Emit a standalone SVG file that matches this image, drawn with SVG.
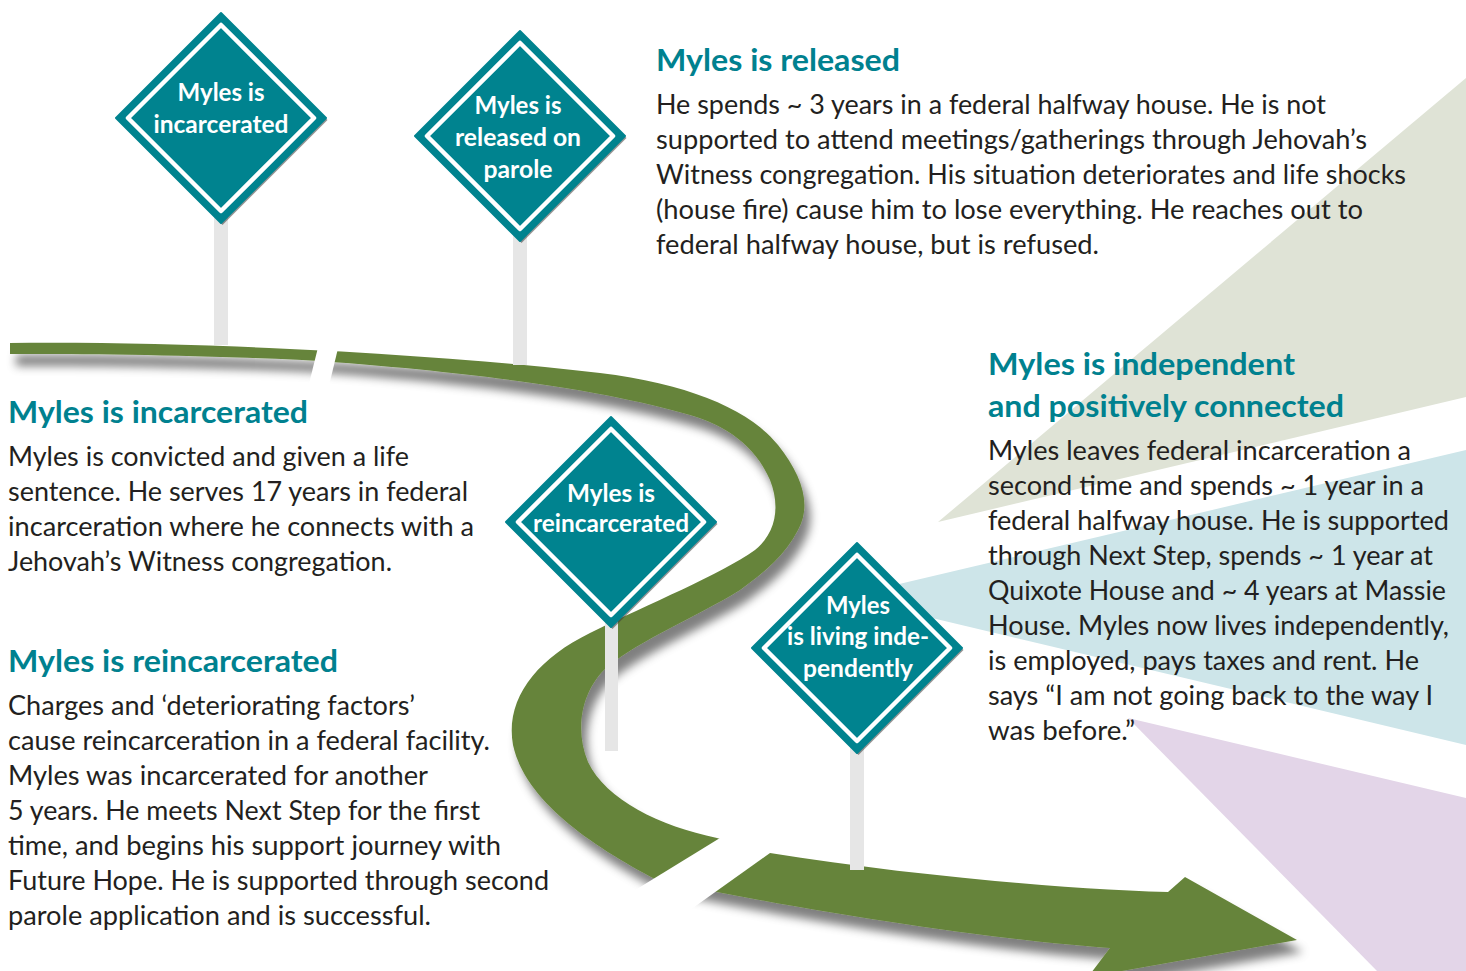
<svg xmlns="http://www.w3.org/2000/svg" width="1466" height="971" viewBox="0 0 1466 971">
<defs>
<style>
.body{font-family:Lato,"Open Sans","Liberation Sans",sans-serif;font-size:26px;fill:#231f20}
.head{font-family:Lato,"Open Sans","Liberation Sans",sans-serif;font-size:31px;font-weight:bold;fill:#00818f}
.sign{font-family:Lato,"Open Sans","Liberation Sans",sans-serif;font-size:24px;font-weight:bold;fill:#ffffff;text-anchor:middle}
.pole{fill:#e6e6e6}
.road{fill:#66843a}
.dia{fill:#00838f;stroke:#00838f;stroke-width:2;stroke-linejoin:round}
.diash{fill:#3a3a3a;opacity:.55}
.diain{fill:none;stroke:#ffffff;stroke-width:4.5;stroke-linejoin:round}
</style>
<polygon id="dia" points="0,-105 105,0 0,105 -105,0"/>
<polygon id="diain" points="0,-93 93,0 0,93 -93,0"/>
<filter id="sh" x="-10%" y="-10%" width="130%" height="140%">
<feGaussianBlur in="SourceAlpha" stdDeviation="5"/>
<feOffset dx="6" dy="12" result="b"/>
<feFlood flood-color="#000" flood-opacity="0.5"/>
<feComposite in2="b" operator="in"/>
<feMerge><feMergeNode/><feMergeNode in="SourceGraphic"/></feMerge>
</filter>
</defs>
<rect width="1466" height="971" fill="#ffffff"/>
<g id="background">
<polygon points="938,522 1466,78 1466,397" fill="#dfe3d6"/>
<polygon points="844,597 1466,450 1466,745" fill="#cde5e9"/>
<polygon points="1128,718 1466,798 1466,971 1377,971" fill="#e3d5e8"/>
</g>
<g id="connectors">
<path class="road" filter="url(#sh)" d="M10,343 C180,341 420,352 600,373 C690,384 750,410 778,445 C802,475 812,505 798,530 C785,555 765,572 740,590 C700,615 640,640 607,667 C582,690 574,728 588,762 C606,800 660,826 717,838 L770,853 C900,874 1060,889 1168,892 L1185,877 L1297,940 L1088,977 L1110,948 C1000,940 850,918 717,892 L657,880 C590,845 525,800 513,745 C505,700 535,660 590,633 C650,603 720,575 755,550 C777,532 780,505 770,480 C755,445 725,425 690,415 C620,395 520,376 320,361 C200,355 100,354 10,354 Z"/>
<polygon points="320.8,336 341,336 326,398 305.5,398" fill="#ffffff"/>
<polygon points="733,830 784,843 669,925 619,900" fill="#ffffff"/>
</g>
<g id="sign-incarcerated">
<rect class="pole" x="214" y="215" width="14" height="130"/>
<g transform="translate(221,118)">
<use href="#dia" class="diash" x="1.5" y="2"/>
<use href="#dia" class="dia"/>
<use href="#diain" class="diain"/>
</g>
<text class="sign" x="221" y="101" textLength="87" lengthAdjust="spacingAndGlyphs">Myles is</text>
<text class="sign" x="221" y="133" textLength="135" lengthAdjust="spacingAndGlyphs">incarcerated</text>
</g>
<g id="sign-parole">
<rect class="pole" x="513" y="232" width="14" height="133"/>
<g transform="translate(520,136)">
<use href="#dia" class="diash" x="1.5" y="2"/>
<use href="#dia" class="dia"/>
<use href="#diain" class="diain"/>
</g>
<text class="sign" x="518" y="114" textLength="87" lengthAdjust="spacingAndGlyphs">Myles is</text>
<text class="sign" x="518" y="146" textLength="126" lengthAdjust="spacingAndGlyphs">released on</text>
<text class="sign" x="518" y="178" textLength="69" lengthAdjust="spacingAndGlyphs">parole</text>
</g>
<g id="sign-reincarcerated">
<rect class="pole" x="605" y="620" width="13" height="131"/>
<g transform="translate(611,522)">
<use href="#dia" class="diash" x="1.5" y="2"/>
<use href="#dia" class="dia"/>
<use href="#diain" class="diain"/>
</g>
<text class="sign" x="611" y="502" textLength="88" lengthAdjust="spacingAndGlyphs">Myles is</text>
<text class="sign" x="611" y="532" textLength="156" lengthAdjust="spacingAndGlyphs">reincarcerated</text>
</g>
<g id="sign-independent">
<rect class="pole" x="850" y="745" width="14" height="125"/>
<g transform="translate(857,648)">
<use href="#dia" class="diash" x="1.5" y="2"/>
<use href="#dia" class="dia"/>
<use href="#diain" class="diain"/>
</g>
<text class="sign" x="858" y="614" textLength="64" lengthAdjust="spacingAndGlyphs">Myles</text>
<text class="sign" x="858" y="645" textLength="142" lengthAdjust="spacingAndGlyphs">is living inde-</text>
<text class="sign" x="858" y="677" textLength="110" lengthAdjust="spacingAndGlyphs">pendently</text>
</g>
<g id="text-released">
<text class="head" x="656" y="71" textLength="244" lengthAdjust="spacingAndGlyphs">Myles is released</text>
<text class="body" x="656" y="114" textLength="670" lengthAdjust="spacingAndGlyphs">He spends ~ 3 years in a federal halfway house. He is not</text>
<text class="body" x="656" y="149" textLength="711" lengthAdjust="spacingAndGlyphs">supported to attend meetings/gatherings through Jehovah’s</text>
<text class="body" x="656" y="184" textLength="750" lengthAdjust="spacingAndGlyphs">Witness congregation. His situation deteriorates and life shocks</text>
<text class="body" x="656" y="219" textLength="707" lengthAdjust="spacingAndGlyphs">(house fire) cause him to lose everything. He reaches out to</text>
<text class="body" x="656" y="254" textLength="443" lengthAdjust="spacingAndGlyphs">federal halfway house, but is refused.</text>
</g>
<g id="text-incarcerated">
<text class="head" x="8" y="423" textLength="300" lengthAdjust="spacingAndGlyphs">Myles is incarcerated</text>
<text class="body" x="8" y="466" textLength="401" lengthAdjust="spacingAndGlyphs">Myles is convicted and given a life</text>
<text class="body" x="8" y="501" textLength="460" lengthAdjust="spacingAndGlyphs">sentence. He serves 17 years in federal</text>
<text class="body" x="8" y="536" textLength="466" lengthAdjust="spacingAndGlyphs">incarceration where he connects with a</text>
<text class="body" x="8" y="571" textLength="384" lengthAdjust="spacingAndGlyphs">Jehovah’s Witness congregation.</text>
</g>
<g id="text-reincarcerated">
<text class="head" x="8" y="672" textLength="330" lengthAdjust="spacingAndGlyphs">Myles is reincarcerated</text>
<text class="body" x="8" y="715" textLength="407" lengthAdjust="spacingAndGlyphs">Charges and ‘deteriorating factors’</text>
<text class="body" x="8" y="750" textLength="482" lengthAdjust="spacingAndGlyphs">cause reincarceration in a federal facility.</text>
<text class="body" x="8" y="785" textLength="420" lengthAdjust="spacingAndGlyphs">Myles was incarcerated for another</text>
<text class="body" x="8" y="820" textLength="472" lengthAdjust="spacingAndGlyphs">5 years. He meets Next Step for the first</text>
<text class="body" x="8" y="855" textLength="493" lengthAdjust="spacingAndGlyphs">time, and begins his support journey with</text>
<text class="body" x="8" y="890" textLength="541" lengthAdjust="spacingAndGlyphs">Future Hope. He is supported through second</text>
<text class="body" x="8" y="925" textLength="423" lengthAdjust="spacingAndGlyphs">parole application and is successful.</text>
</g>
<g id="text-independent">
<text class="head" x="988" y="375" textLength="307" lengthAdjust="spacingAndGlyphs">Myles is independent</text>
<text class="head" x="988" y="417" textLength="356" lengthAdjust="spacingAndGlyphs">and positively connected</text>
<text class="body" x="988" y="460" textLength="423" lengthAdjust="spacingAndGlyphs">Myles leaves federal incarceration a</text>
<text class="body" x="988" y="495" textLength="436" lengthAdjust="spacingAndGlyphs">second time and spends ~ 1 year in a</text>
<text class="body" x="988" y="530" textLength="461" lengthAdjust="spacingAndGlyphs">federal halfway house. He is supported</text>
<text class="body" x="988" y="565" textLength="445" lengthAdjust="spacingAndGlyphs">through Next Step, spends ~ 1 year at</text>
<text class="body" x="988" y="600" textLength="458" lengthAdjust="spacingAndGlyphs">Quixote House and ~ 4 years at Massie</text>
<text class="body" x="988" y="635" textLength="461" lengthAdjust="spacingAndGlyphs">House. Myles now lives independently,</text>
<text class="body" x="988" y="670" textLength="431" lengthAdjust="spacingAndGlyphs">is employed, pays taxes and rent. He</text>
<text class="body" x="988" y="705" textLength="445" lengthAdjust="spacingAndGlyphs">says “I am not going back to the way I</text>
<text class="body" x="988" y="740" textLength="147" lengthAdjust="spacingAndGlyphs">was before.”</text>
</g>
</svg>
